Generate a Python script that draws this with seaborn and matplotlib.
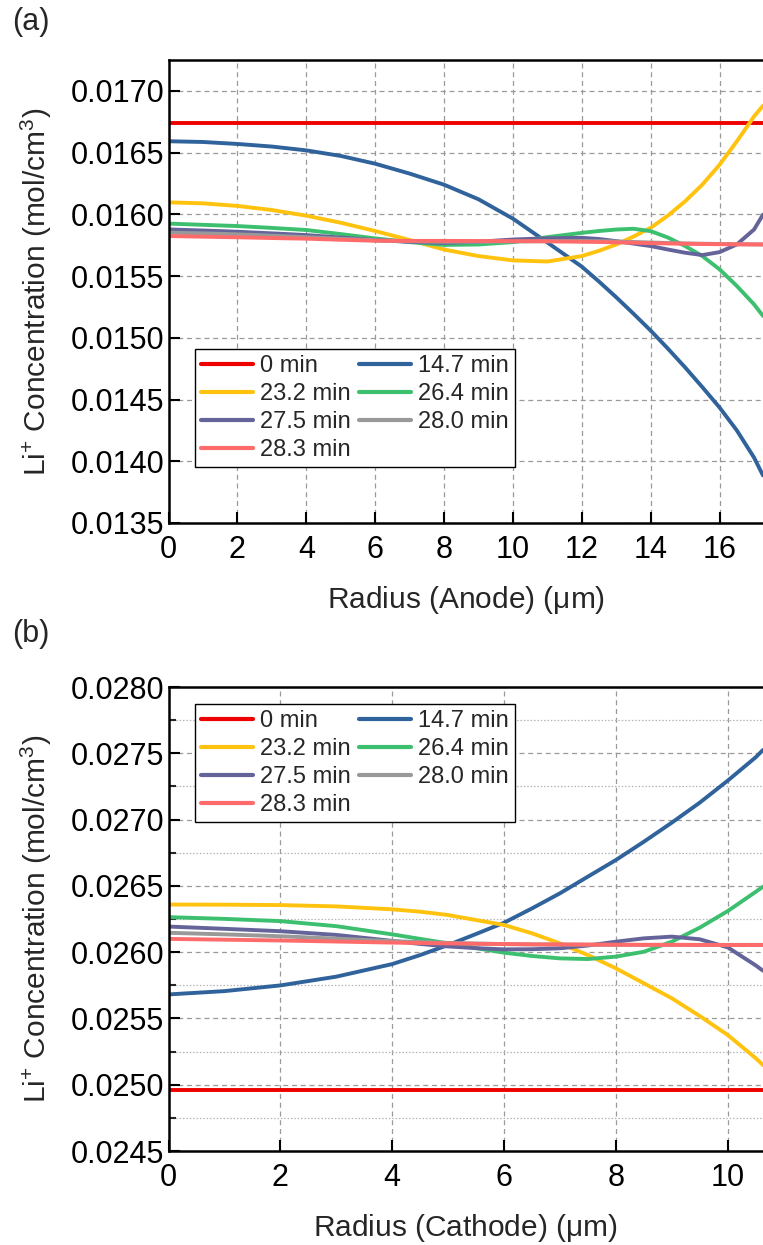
"""
Li+ concentration profiles across anode and cathode particle radius.
"""
import pandas as pd
import matplotlib
matplotlib.use("Agg")
import matplotlib.pyplot as plt
from matplotlib.ticker import FormatStrFormatter, MultipleLocator
import seaborn as sns

# ---- data ----
times = ["0 min", "14.7 min", "23.2 min", "26.4 min", "27.5 min", "28.0 min", "28.3 min"]
colors = ["#EE0000", "#30639B", "#FFC30F", "#3DBF70", "#65649A", "#999999", "#FF6B6B"]

radius_anode = [0, 1, 2, 3, 4, 5, 6, 7, 8, 9, 10, 11, 12, 12.5, 13, 13.5, 14, 14.5,
                15, 15.5, 16, 16.5, 17, 17.26]
anode_0 = [0.016740] * 24
anode_147 = [0.016592, 0.016586, 0.016570, 0.016549, 0.016518, 0.016473, 0.016410, 0.016330,
             0.016240, 0.016122, 0.015965, 0.015772, 0.015576, 0.015455, 0.015328, 0.015195,
             0.015058, 0.014912, 0.014760, 0.014600, 0.014435, 0.014250, 0.014030, 0.013885]
anode_232 = [0.016097, 0.016089, 0.016068, 0.016035, 0.015989, 0.015932, 0.015865, 0.015792,
             0.015715, 0.015662, 0.015627, 0.015618, 0.015662, 0.015705, 0.015756, 0.015820,
             0.015891, 0.015990, 0.016106, 0.016241, 0.016402, 0.016591, 0.016793, 0.016880]
anode_264 = [0.015925, 0.015915, 0.015905, 0.015890, 0.015873, 0.015840, 0.015805, 0.015775,
             0.015752, 0.015756, 0.015775, 0.015815, 0.015850, 0.015865, 0.015877, 0.015883,
             0.015864, 0.015812, 0.015743, 0.015662, 0.015554, 0.015420, 0.015271, 0.015177]
anode_275 = [0.015878, 0.015869, 0.015859, 0.015846, 0.015832, 0.015812, 0.015792, 0.015777,
             0.015768, 0.015778, 0.015796, 0.015806, 0.015810, 0.015800, 0.015783, 0.015763,
             0.015743, 0.015715, 0.015689, 0.015670, 0.015694, 0.015756, 0.015877, 0.015998]
anode_280 = [0.015851, 0.015846, 0.015838, 0.015827, 0.015815, 0.015802, 0.015790, 0.015782,
             0.015778, 0.015778, 0.015780, 0.015783, 0.015784, 0.015783, 0.015780, 0.015776,
             0.015772, 0.015768, 0.015764, 0.015762, 0.015760, 0.015758, 0.015757, 0.015756]
anode_283 = [0.015824, 0.015819, 0.015814, 0.015808, 0.015803, 0.015794, 0.015786, 0.015785,
             0.015785, 0.015784, 0.015783, 0.015781, 0.015778, 0.015776, 0.015773, 0.015770,
             0.015767, 0.015764, 0.015762, 0.015760, 0.015758, 0.015757, 0.015756, 0.015756]

radius_cathode = [0, 1, 2, 3, 4, 4.5, 5, 5.5, 6, 6.5, 7, 7.5, 8, 8.5, 9, 9.5, 10, 10.5, 10.63]
cathode_0 = [0.024960] * 19
cathode_147 = [0.025681, 0.025706, 0.025749, 0.025815, 0.025910, 0.025978, 0.026054, 0.026137,
               0.026222, 0.026330, 0.026444, 0.026570, 0.026695, 0.026833, 0.026977, 0.027128,
               0.027294, 0.027470, 0.027525]
cathode_232 = [0.026359, 0.026358, 0.026355, 0.026345, 0.026323, 0.026305, 0.026280, 0.026242,
               0.026205, 0.026142, 0.026066, 0.025978, 0.025878, 0.025765, 0.025652, 0.025518,
               0.025375, 0.025200, 0.025148]
cathode_264 = [0.026264, 0.026251, 0.026234, 0.026196, 0.026134, 0.026100, 0.026066, 0.026030,
               0.025996, 0.025971, 0.025953, 0.025948, 0.025966, 0.026003, 0.026079, 0.026185,
               0.026310, 0.026455, 0.026494]
cathode_275 = [0.026193, 0.026176, 0.026158, 0.026130, 0.026085, 0.026062, 0.026043, 0.026030,
               0.026021, 0.026022, 0.026029, 0.026050, 0.026079, 0.026104, 0.026117, 0.026097,
               0.026036, 0.025900, 0.025860]
cathode_280 = [0.026146, 0.026134, 0.026120, 0.026102, 0.026083, 0.026076, 0.026070, 0.026065,
               0.026061, 0.026058, 0.026057, 0.026056, 0.026055, 0.026055, 0.026055, 0.026055,
               0.026055, 0.026055, 0.026055]
cathode_283 = [0.026100, 0.026094, 0.026088, 0.026080, 0.026072, 0.026069, 0.026066, 0.026063,
               0.026061, 0.026059, 0.026058, 0.026057, 0.026056, 0.026055, 0.026055, 0.026054,
               0.026054, 0.026054, 0.026054]

anode_series = [anode_0, anode_147, anode_232, anode_264, anode_275, anode_280, anode_283]
cathode_series = [cathode_0, cathode_147, cathode_232, cathode_264, cathode_275, cathode_280, cathode_283]


def to_long(radius, series):
    frames = []
    for label, values in zip(times, series):
        frames.append(pd.DataFrame({"radius": radius, "conc": values, "time": label}))
    return pd.concat(frames, ignore_index=True)


sns.set_theme(style="white")
plt.rcParams["font.family"] = ["Liberation Sans", "DejaVu Sans"]
plt.rcParams["mathtext.fontset"] = "custom"
plt.rcParams["mathtext.rm"] = "Liberation Sans"
plt.rcParams["mathtext.default"] = "regular"

W, H = 763, 1245
fig = plt.figure(figsize=(W / 100, H / 100), dpi=100)
left = 168.5 / W
ax_a = fig.add_axes([left, 1 - 523 / H, 1 - left, (523 - 60) / H])
ax_b = fig.add_axes([left, 1 - 1151 / H, 1 - left, (1151 - 687) / H])

palette = dict(zip(times, colors))
panels = [
    (ax_a, to_long(radius_anode, anode_series), (0, 17.26), (0.0135, 0.01725),
     "Radius (Anode) ($\\mu$m)", "lower left", (0.0446, 0.121)),
    (ax_b, to_long(radius_cathode, cathode_series), (0, 10.63), (0.0245, 0.0280),
     "Radius (Cathode) ($\\mu$m)", "upper left", (0.0446, 0.963)),
]

for ax, df, xlim, ylim, xlabel, loc, anchor in panels:
    sns.lineplot(data=df, x="radius", y="conc", hue="time", hue_order=times,
                 palette=palette, linewidth=2.8, legend=False, ax=ax, sort=False)
    ax.set_xlim(*xlim)
    ax.set_ylim(*ylim)
    ax.xaxis.set_major_locator(MultipleLocator(2))
    ax.yaxis.set_major_locator(MultipleLocator(0.0005))
    ax.yaxis.set_major_formatter(FormatStrFormatter("%.4f"))

    ax.set_axisbelow(True)
    ax.grid(True, which="major", linestyle=(0, (4, 3)), color="#9a9a9a", linewidth=0.9)

    for side in ["left", "bottom", "top"]:
        ax.spines[side].set_linewidth(1.8)
        ax.spines[side].set_color("black")
    ax.spines["right"].set_visible(False)

    ax.tick_params(axis="both", which="major", direction="in", length=8, width=1.5,
                   labelsize=22, colors="black", left=True, bottom=True)
    ax.tick_params(axis="x", pad=9)
    ax.tick_params(axis="y", pad=3)

    ax.set_xlabel(xlabel, fontsize=21.5, labelpad=13)
    ax.set_ylabel("Li$^{+}$ Concentration (mol/cm$^{3}$)", fontsize=21.5)
    ax.yaxis.set_label_coords(-0.193, 0.5)

    # legend filled row by row, two columns
    lines = ax.get_lines()
    order = [0, 2, 4, 6, 1, 3, 5]
    leg = ax.legend([lines[i] for i in order], [times[i] for i in order],
                    ncol=2, loc=loc, bbox_to_anchor=anchor, borderaxespad=0,
                    fontsize=17, frameon=True, fancybox=False, framealpha=1,
                    edgecolor="black", handlelength=2.2, handletextpad=0.3,
                    columnspacing=0.35, labelspacing=0.25, borderpad=0.25)
    leg.get_frame().set_linewidth(1.0)
    for h in leg.get_lines():
        h.set_linewidth(3)

# cathode panel has minor y ticks with dotted grid
ax_b.yaxis.set_minor_locator(MultipleLocator(0.00025))
ax_b.tick_params(axis="y", which="minor", direction="in", length=5, width=1.5, left=True)
ax_b.yaxis.grid(True, which="minor", linestyle=(0, (1.2, 1.5)), color="#b5b5b5", linewidth=0.9)

fig.text(12 / W, 1 - 7 / H, "(a)", fontsize=22, va="top", ha="left")
fig.text(12 / W, 1 - 619 / H, "(b)", fontsize=22, va="top", ha="left")

fig.savefig("out.png", dpi=100)
plt.close(fig)
